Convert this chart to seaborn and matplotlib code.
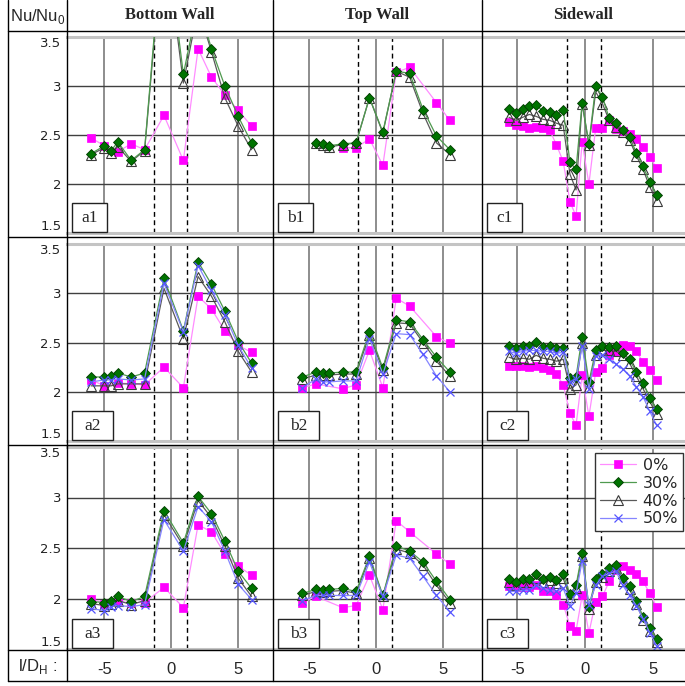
import matplotlib
matplotlib.use("Agg")
import matplotlib.pyplot as plt
from matplotlib.lines import Line2D
from matplotlib.patches import Rectangle
import seaborn as sns

# --- x positions (l/D_H) ---
A_X0 = [-6, -5, -4, -3, -2, -0.55, 0.9, 2, 3, 4, 5, 6]
A_X = [-6, -5, -4.5, -4, -3, -2, -0.55, 0.9, 2, 3, 4, 5, 6]
B_X0 = [-5.5, -4.5, -2.5, -1.5, -0.5, 0.5, 1.5, 2.5, 4.5, 5.5]
B_X = [-5.5, -4.5, -4, -3.5, -2.5, -1.5, -0.5, 0.5, 1.5, 2.5, 3.5, 4.5, 5.5]
B1_X0 = [-2.5, -1.5, -0.5, 0.5, 1.5, 2.5, 4.5, 5.5]
B1_X = [-4.5, -4, -3.5, -2.5, -1.5, -0.5, 0.5, 1.5, 2.5, 3.5, 4.5, 5.5]
C_X = [-5.6, -5.1, -4.6, -4.1, -3.6, -3.1, -2.6, -2.1, -1.6, -1.1, -0.65, -0.2,
       0.3, 0.8, 1.3, 1.8, 2.3, 2.8, 3.3, 3.8, 4.3, 4.8, 5.3]

# --- Bottom wall ---
A1_0 = [2.47, 2.39, 2.33, 2.41, 2.35, 2.70, 2.24, 3.38, 3.09, 2.91, 2.75, 2.59]
A1_30 = [2.31, 2.39, 2.34, 2.43, 2.24, 2.35, 4.70, 3.12, 3.85, 3.38, 3.00, 2.69, 2.42]
A1_40 = [2.30, 2.37, 2.32, 2.38, 2.23, 2.34, 4.60, 3.03, 3.80, 3.35, 2.88, 2.59, 2.35]

A2_0 = [2.12, 2.06, 2.09, 2.08, 2.07, 2.25, 2.04, 2.97, 2.84, 2.62, 2.47, 2.40]
A2_30 = [2.15, 2.15, 2.16, 2.19, 2.15, 2.19, 3.15, 2.62, 3.32, 3.09, 2.82, 2.51, 2.29]
A2_40 = [2.06, 2.06, 2.06, 2.08, 2.08, 2.08, 3.05, 2.54, 3.17, 2.97, 2.71, 2.41, 2.20]
A2_50 = [2.10, 2.12, 2.12, 2.13, 2.12, 2.13, 3.10, 2.61, 3.28, 3.03, 2.78, 2.47, 2.24]

A3_0 = [2.00, 1.95, 1.97, 1.96, 1.96, 2.11, 1.91, 2.73, 2.66, 2.44, 2.32, 2.23]
A3_30 = [1.97, 1.96, 1.98, 2.02, 1.97, 2.02, 2.87, 2.55, 3.01, 2.84, 2.57, 2.27, 2.10]
A3_40 = [1.95, 1.93, 1.95, 1.98, 1.94, 1.98, 2.83, 2.52, 2.97, 2.80, 2.52, 2.20, 2.02]
A3_50 = [1.90, 1.88, 1.92, 1.93, 1.92, 1.94, 2.78, 2.47, 2.91, 2.76, 2.47, 2.14, 1.99]

# --- Top wall ---
B1_0 = [2.37, 2.37, 2.46, 2.19, 3.14, 3.19, 2.83, 2.65]
B1_30 = [2.42, 2.41, 2.39, 2.41, 2.42, 2.88, 2.53, 3.15, 3.13, 2.76, 2.49, 2.35]
B1_40 = [2.42, 2.40, 2.38, 2.40, 2.42, 2.88, 2.52, 3.15, 3.09, 2.72, 2.42, 2.30]

B2_0 = [2.04, 2.08, 2.03, 2.07, 2.42, 2.04, 2.95, 2.87, 2.56, 2.49]
B2_30 = [2.15, 2.20, 2.19, 2.19, 2.20, 2.20, 2.61, 2.24, 2.73, 2.71, 2.53, 2.35, 2.20]
B2_40 = [2.13, 2.17, 2.17, 2.17, 2.18, 2.18, 2.58, 2.22, 2.70, 2.69, 2.50, 2.31, 2.16]
B2_50 = [2.04, 2.13, 2.10, 2.10, 2.11, 2.11, 2.54, 2.18, 2.59, 2.58, 2.38, 2.16, 2.00]

B3_0 = [1.96, 2.02, 1.91, 1.93, 2.23, 1.89, 2.77, 2.66, 2.44, 2.34]
B3_30 = [2.05, 2.09, 2.08, 2.09, 2.10, 2.07, 2.42, 2.03, 2.52, 2.47, 2.36, 2.17, 1.99]
B3_40 = [2.03, 2.07, 2.06, 2.07, 2.08, 2.05, 2.40, 2.02, 2.49, 2.45, 2.33, 2.13, 1.96]
B3_50 = [1.98, 2.03, 2.03, 2.03, 2.03, 2.03, 2.36, 2.02, 2.43, 2.40, 2.22, 2.03, 1.87]

# --- Sidewall ---
C1_0 = [2.63, 2.60, 2.59, 2.57, 2.58, 2.57, 2.55, 2.40, 2.23, 1.82, 1.67, 2.43,
        2.00, 2.57, 2.57, 2.65, 2.56, 2.54, 2.51, 2.46, 2.38, 2.28, 2.16]
C1_30 = [2.77, 2.72, 2.77, 2.80, 2.81, 2.74, 2.73, 2.70, 2.76, 2.22, 2.15, 2.83,
         2.41, 3.00, 2.89, 2.67, 2.62, 2.55, 2.48, 2.32, 2.18, 2.02, 1.89]
C1_40 = [2.68, 2.65, 2.68, 2.71, 2.69, 2.66, 2.65, 2.62, 2.60, 2.10, 1.94, 2.82,
         2.40, 2.94, 2.82, 2.65, 2.58, 2.53, 2.45, 2.29, 2.15, 1.97, 1.83]

C2_0 = [2.26, 2.26, 2.26, 2.25, 2.26, 2.24, 2.22, 2.18, 2.07, 1.78, 1.66, 2.17,
        1.75, 2.20, 2.24, 2.37, 2.40, 2.47, 2.46, 2.41, 2.30, 2.22, 2.12]
C2_30 = [2.46, 2.44, 2.46, 2.46, 2.51, 2.45, 2.46, 2.44, 2.44, 2.14, 2.15, 2.56,
         2.10, 2.42, 2.46, 2.45, 2.46, 2.39, 2.33, 2.20, 2.09, 1.94, 1.82]
C2_40 = [2.35, 2.33, 2.34, 2.33, 2.37, 2.34, 2.33, 2.31, 2.33, 2.03, 2.07, 2.50,
         2.05, 2.37, 2.42, 2.42, 2.41, 2.37, 2.29, 2.16, 2.03, 1.90, 1.77]
C2_50 = [2.41, 2.39, 2.41, 2.42, 2.42, 2.41, 2.41, 2.39, 2.40, 2.10, 2.13, 2.46,
         2.03, 2.36, 2.37, 2.33, 2.28, 2.23, 2.16, 2.05, 1.95, 1.80, 1.66]

C3_0 = [2.12, 2.11, 2.11, 2.11, 2.13, 2.07, 2.07, 2.03, 1.94, 1.73, 1.68, 2.03,
        1.66, 1.97, 2.02, 2.17, 2.28, 2.32, 2.28, 2.24, 2.17, 2.05, 1.92]
C3_30 = [2.19, 2.16, 2.19, 2.19, 2.24, 2.19, 2.21, 2.18, 2.24, 2.04, 2.13, 2.45,
         1.92, 2.19, 2.24, 2.30, 2.33, 2.20, 2.12, 1.98, 1.82, 1.71, 1.60]
C3_40 = [2.16, 2.13, 2.16, 2.16, 2.20, 2.16, 2.18, 2.15, 2.20, 2.01, 2.10, 2.42,
         1.90, 2.16, 2.21, 2.27, 2.30, 2.17, 2.09, 1.95, 1.79, 1.68, 1.57]
C3_50 = [2.07, 2.07, 2.08, 2.08, 2.13, 2.10, 2.08, 2.07, 2.10, 1.93, 2.05, 2.37,
         1.94, 2.13, 2.22, 2.25, 2.27, 2.13, 2.03, 1.93, 1.80, 1.66, 1.53]

COLUMN_TITLES = ['Bottom Wall', 'Top Wall', 'Sidewall']
SERIES_NAMES = ['0%', '30%', '40%', '50%']
Y_TICKS = [1.5, 2, 2.5, 3, 3.5]
Y_TICK_LABELS = ['1.5', '2', '2.5', '3', '3.5']
X_TICKS = [-5, 0, 5]
X_TICK_LABELS = ['-5', '0', '5']

# (label, [(serie, x, y), ...]) for each row/column
PANELS = [
    [('a1', [('0%', A_X0, A1_0), ('30%', A_X, A1_30), ('40%', A_X, A1_40)]),
     ('b1', [('0%', B1_X0, B1_0), ('30%', B1_X, B1_30), ('40%', B1_X, B1_40)]),
     ('c1', [('0%', C_X, C1_0), ('30%', C_X, C1_30), ('40%', C_X, C1_40)])],
    [('a2', [('0%', A_X0, A2_0), ('30%', A_X, A2_30), ('40%', A_X, A2_40), ('50%', A_X, A2_50)]),
     ('b2', [('0%', B_X0, B2_0), ('30%', B_X, B2_30), ('40%', B_X, B2_40), ('50%', B_X, B2_50)]),
     ('c2', [('0%', C_X, C2_0), ('30%', C_X, C2_30), ('40%', C_X, C2_40), ('50%', C_X, C2_50)])],
    [('a3', [('0%', A_X0, A3_0), ('30%', A_X, A3_30), ('40%', A_X, A3_40), ('50%', A_X, A3_50)]),
     ('b3', [('0%', B_X0, B3_0), ('30%', B_X, B3_30), ('40%', B_X, B3_40), ('50%', B_X, B3_50)]),
     ('c3', [('0%', C_X, C3_0), ('30%', C_X, C3_30), ('40%', C_X, C3_40), ('50%', C_X, C3_50)])],
]

STYLE = {
    '0%': dict(color='#ff8cff', marker='s', markersize=6.0, markerfacecolor='#ff00ff',
               markeredgecolor='#ff00ff', markeredgewidth=0.5, linewidth=0.9, zorder=3),
    '30%': dict(color='#4f9a4f', marker='D', markersize=4.9, markerfacecolor='#007300',
                markeredgecolor='#003d00', markeredgewidth=0.6, linewidth=0.9, zorder=5),
    '40%': dict(color='#595959', marker='^', markersize=7.2, markerfacecolor='none',
                markeredgecolor='#3a3a3a', markeredgewidth=0.8, linewidth=0.9, zorder=4),
    '50%': dict(color='#8585ff', marker='x', markersize=6.0, markeredgecolor='#5555ff',
                markeredgewidth=0.9, linewidth=0.9, zorder=6),
}

# --- layout in pixels ---
W, H = 685, 686
COL_X = [67, 273, 482, 685]
ROW_Y = [(37, 233), (244, 441), (447, 649)]
XLIMS = [(-7.8, 7.6), (-7.7, 7.9), (-7.6, 7.4)]
DASH_X = [-1.32, 1.17]
BOX_W = [35, 41, 41]

sns.set_style("white")
plt.rcParams['font.family'] = ['DejaVu Sans']

fig = plt.figure(figsize=(W / 100, H / 100), dpi=100)
fig.patch.set_facecolor('white')


def rect(x0, y0, x1, y1):
    return [x0 / W, 1 - y1 / H, (x1 - x0) / W, (y1 - y0) / H]


handles = {}
for r, row in enumerate(PANELS):
    y0, y1 = ROW_Y[r]
    for c, (tag, series) in enumerate(row):
        x0, x1 = COL_X[c], COL_X[c + 1]
        ax = fig.add_axes(rect(x0, y0, x1, y1))
        ax.set_facecolor('white')

        for name, xs, ys in series:
            sns.lineplot(x=xs, y=ys, ax=ax, legend=False, **STYLE[name])
            handles[name] = ax.lines[-1]

        for xd in DASH_X:
            ax.axvline(xd, color='black', linestyle=(0, (3.5, 2.5)), linewidth=1.0, zorder=2)

        ax.set_xlim(*XLIMS[c])
        ax.set_ylim(1.5, 3.5)
        ax.set_xticks(X_TICKS)
        ax.set_yticks(Y_TICKS)
        ax.xaxis.grid(True, color='#7a7a7a', linewidth=1.2)
        ax.yaxis.grid(True, color='#404040', linewidth=1.0)
        ax.set_axisbelow(True)
        ax.tick_params(length=0)
        ax.set_xlabel('')
        ax.set_ylabel('')

        if c == 0:
            ax.set_yticklabels(Y_TICK_LABELS, fontsize=9.5, color='#222222')
            ax.tick_params(axis='y', pad=4)
            labs = ax.get_yticklabels()
            labs[0].set_va('bottom')
            labs[-1].set_va('top')
        else:
            ax.set_yticklabels([])
        if r == 2:
            ax.set_xticklabels(X_TICK_LABELS, fontsize=12, family='Liberation Sans')
            ax.tick_params(axis='x', pad=9)
        else:
            ax.set_xticklabels([])

        for side in ['left', 'right']:
            ax.spines[side].set_visible(False)
        for side in ['top', 'bottom']:
            ax.spines[side].set_color('#c4c4c4')
            ax.spines[side].set_linewidth(2.2)

        # panel tag box
        axw, axh = x1 - x0, y1 - y0
        ax.add_patch(Rectangle((5 / axw, 0.004), BOX_W[r] / axw, 29 / axh,
                               transform=ax.transAxes, facecolor='white',
                               edgecolor='#222222', linewidth=1.0, zorder=8, clip_on=False))
        ax.text((5 + BOX_W[r] / 2) / axw, 0.004 + 14.5 / axh, tag, transform=ax.transAxes,
                ha='center', va='center', fontsize=12.5, family='Liberation Serif', zorder=9)

        if r == 2 and c == 2:
            leg = ax.legend(handles=[handles[n] for n in SERIES_NAMES], labels=SERIES_NAMES,
                            loc='upper right', bbox_to_anchor=(0.99, 0.97), borderaxespad=0,
                            frameon=True, fancybox=False, edgecolor='#333333', framealpha=1,
                            prop={'family': 'DejaVu Sans', 'size': 11.5},
                            handlelength=2.3, labelspacing=0.18, handletextpad=0.4,
                            borderpad=0.3)
            leg.get_frame().set_linewidth(1.0)
            leg.set_zorder(10)

# --- table grid lines ---
for yy in [31, 237, 445, 650, 681]:
    fig.add_artist(Line2D([8 / W, 685 / W], [1 - yy / H, 1 - yy / H],
                          transform=fig.transFigure, color='black', linewidth=1.0, zorder=20))
for xx in [8, 67, 273, 482]:
    fig.add_artist(Line2D([xx / W, xx / W], [1 - 0 / H, 1 - 681 / H],
                          transform=fig.transFigure, color='black', linewidth=1.0, zorder=20))

# --- header texts ---
fig.text(38 / W, 1 - 16 / H, r'Nu/Nu$_\mathregular{0}$', ha='center', va='center',
         fontsize=12, family='Liberation Sans')
for c, title in enumerate(COLUMN_TITLES):
    fig.text((COL_X[c] + COL_X[c + 1]) / 2 / W, 1 - 15 / H, title, ha='center', va='center',
             fontsize=12, family='Liberation Serif', fontweight='bold')
fig.text(38 / W, 1 - 666 / H, r'l/D$_\mathregular{H}$ :', ha='center', va='center',
         fontsize=12, family='Liberation Sans')

fig.savefig('out.png', dpi=100, facecolor='white')
